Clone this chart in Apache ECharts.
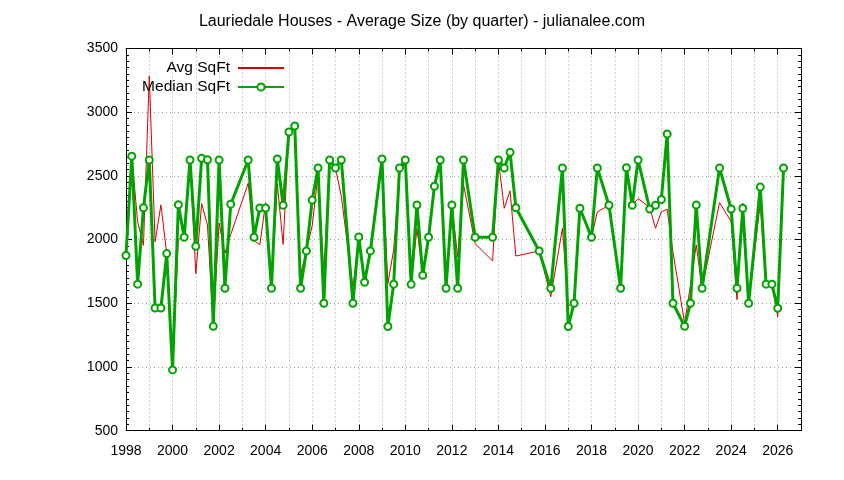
<!DOCTYPE html>
<html>
<head>
<meta charset="utf-8">
<script src="https://cdn.jsdelivr.net/npm/echarts@6/dist/echarts.min.js"></script>
<style>
html,body{margin:0;padding:0;background:#fff;}
#chart{width:844px;height:480px;}
</style>
</head>
<body>
<div id="chart"></div>
<script>
// Quarter positions (decimal years); missing quarters are simply absent
var quarters = [
  1998.0, 1998.25, 1998.5, 1998.75,
  1999.0, 1999.25, 1999.5, 1999.75,
  2000.0, 2000.25, 2000.5, 2000.75,
  2001.0, 2001.25, 2001.5, 2001.75,
  2002.0, 2002.25, 2002.5,
  2003.25, 2003.5, 2003.75,
  2004.0, 2004.25, 2004.5, 2004.75,
  2005.0, 2005.25, 2005.5, 2005.75,
  2006.0, 2006.25, 2006.5, 2006.75,
  2007.0, 2007.25, 2007.75,
  2008.0, 2008.25, 2008.5,
  2009.0, 2009.25, 2009.5, 2009.75,
  2010.0, 2010.25, 2010.5, 2010.75,
  2011.0, 2011.25, 2011.5, 2011.75,
  2012.0, 2012.25, 2012.5,
  2013.0, 2013.75,
  2014.0, 2014.25, 2014.5, 2014.75,
  2015.75,
  2016.25, 2016.75,
  2017.0, 2017.25, 2017.5,
  2018.0, 2018.25, 2018.75,
  2019.25, 2019.5, 2019.75,
  2020.0, 2020.5, 2020.75,
  2021.0, 2021.25, 2021.5,
  2022.0, 2022.25, 2022.5, 2022.75,
  2023.5,
  2024.0, 2024.25, 2024.5, 2024.75,
  2025.25, 2025.5, 2025.75,
  2026.0, 2026.25
];

var avgSqft = [
  1875, 2655, 2140, 1955,
  3285, 1982, 2273, 1890,
  977, 2003, 2018, 2625,
  1732, 2282, 2115, 1319,
  2130, 1892, 2040,
  2442, 1992, 1960,
  2290, 1618, 2438, 1962,
  2845, 2892, 1725, 1911,
  2110, 2510, 1735, 2625,
  2562, 2340, 1620,
  2020, 1665, 1911,
  2633, 1655, 1920, 2520,
  2610, 1649, 2087, 1720,
  2018, 2419, 2625, 1618,
  2272, 1866, 2432,
  1968, 1833,
  2625, 2246, 2383, 1871,
  1911,
  1552, 2089,
  1480, 1500, 2246,
  2018, 2217, 2270,
  1618, 2564, 2270,
  2322, 2252, 2089,
  2219, 2238, 1900,
  1346, 1640, 1958, 1618,
  2290,
  2141, 1528, 2285, 1500,
  2285, 1650, 1650,
  1395, 2562
];

var medianSqft = [
  1875, 2655, 1650, 2250,
  2625, 1463, 1463, 1890,
  977, 2274, 2018, 2625,
  1947, 2638, 2627, 1319,
  2625, 1618, 2278,
  2625, 2018, 2248,
  2248, 1618, 2633, 2270,
  2845, 2892, 1618, 1911,
  2310, 2562, 1500, 2625,
  2562, 2625, 1500,
  2020, 1665, 1911,
  2633, 1318, 1650, 2562,
  2625, 1649, 2272, 1720,
  2018, 2419, 2625, 1618,
  2272, 1618, 2625,
  2018, 2018,
  2625, 2562, 2685, 2250,
  1911,
  1618, 2562,
  1318, 1500, 2246,
  2018, 2562, 2270,
  1618, 2564, 2270,
  2625, 2240, 2270,
  2315, 2829, 1500,
  1320, 1500, 2272, 1618,
  2562,
  2240, 1618, 2246, 1500,
  2412, 1650, 1650,
  1461, 2562
];

var seriesNames = ['Avg SqFt', 'Median SqFt'];
var titleText = 'Lauriedale Houses - Average Size (by quarter) - julianalee.com';

function pairs(xs, ys) {
  var out = [];
  for (var i = 0; i < xs.length; i++) out.push([xs[i], ys[i]]);
  return out;
}

var FONT = 'Liberation Sans';
var gridLine = { show: true, lineStyle: { color: '#a0a0a0', width: 1, type: [1, 3] } };

var chart = echarts.init(document.getElementById('chart'), null, { renderer: 'canvas' });
chart.setOption({
  animation: false,
  backgroundColor: '#ffffff',
  title: {
    text: titleText,
    left: 'center',
    top: 9,
    textStyle: { fontFamily: FONT, fontSize: 16, fontWeight: 'normal', color: '#000' }
  },
  legend: [
    {
      data: [{ name: seriesNames[0], itemStyle: { opacity: 0 } }],
      right: 554, top: 55,
      align: 'right',
      itemWidth: 46, itemHeight: 14,
      textStyle: { fontFamily: FONT, fontSize: 15.5, color: '#000', padding: [0, 3, 0, 0] }
    },
    {
      data: [seriesNames[1]],
      right: 554, top: 74,
      align: 'right',
      itemWidth: 46, itemHeight: 9,
      textStyle: { fontFamily: FONT, fontSize: 15.5, color: '#000', padding: [0, 3, 0, 0] }
    }
  ],
  grid: { left: 126, right: 43, top: 48.5, bottom: 49.3, containLabel: false },
  xAxis: [
    {
      type: 'value', min: 1998, max: 2027, interval: 2,
      axisLine: { show: true, onZero: false, lineStyle: { color: '#000', width: 1 } },
      axisTick: { show: true, inside: true, length: 6, lineStyle: { color: '#000' } },
      minorTick: { show: true, splitNumber: 2, length: 3, lineStyle: { color: '#000' } },
      splitLine: gridLine,
      minorSplitLine: gridLine,
      axisLabel: {
        margin: 13, fontFamily: FONT, fontSize: 14, color: '#000',
        formatter: function (v) { return (v % 2 === 0 && v <= 2026) ? String(v) : ''; }
      }
    },
    {
      type: 'value', min: 1998, max: 2027, interval: 2, position: 'top',
      axisLine: { show: true, onZero: false, lineStyle: { color: '#000', width: 1 } },
      axisTick: { show: true, inside: true, length: 6, lineStyle: { color: '#000' } },
      minorTick: { show: true, splitNumber: 2, length: 3, lineStyle: { color: '#000' } },
      splitLine: { show: false },
      axisLabel: { show: false }
    }
  ],
  yAxis: [
    {
      type: 'value', min: 500, max: 3500, interval: 500,
      axisLine: { show: true, onZero: false, lineStyle: { color: '#000', width: 1 } },
      axisTick: { show: true, inside: true, length: 6, lineStyle: { color: '#000' } },
      minorTick: { show: true, splitNumber: 10, length: 3, lineStyle: { color: '#000' } },
      splitLine: gridLine,
      axisLabel: {
        margin: 8, fontFamily: FONT, fontSize: 14, color: '#000',
        formatter: function (v) { return String(v); }
      }
    },
    {
      type: 'value', min: 500, max: 3500, interval: 500, position: 'right',
      axisLine: { show: true, onZero: false, lineStyle: { color: '#000', width: 1 } },
      axisTick: { show: true, inside: true, length: 6, lineStyle: { color: '#000' } },
      minorTick: { show: true, splitNumber: 10, length: 3, lineStyle: { color: '#000' } },
      splitLine: { show: false },
      axisLabel: { show: false }
    }
  ],
  series: [
    {
      name: seriesNames[0],
      type: 'line',
      data: pairs(quarters, avgSqft),
      symbol: 'none',
      lineStyle: { color: '#dd0000', width: 1 },
      itemStyle: { color: '#dd0000' },
      z: 2
    },
    {
      name: seriesNames[1],
      type: 'line',
      data: pairs(quarters, medianSqft),
      symbol: 'emptyCircle',
      symbolSize: 7,
      showAllSymbol: true,
      lineStyle: { color: '#00a300', width: 3 },
      itemStyle: { color: '#00a300', borderColor: '#00a300', borderWidth: 2 },
      z: 3
    }
  ]
});
</script>
</body>
</html>
